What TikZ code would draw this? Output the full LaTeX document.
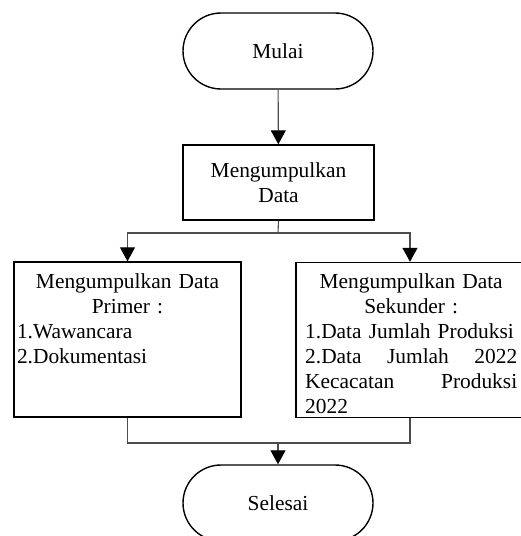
\documentclass[tikz,border=0pt]{standalone}
\usepackage{fontspec}
\setmainfont{Liberation Serif}
\usetikzlibrary{arrows.meta,shapes.misc}

\tikzset{
  terminal/.style={rounded rectangle,draw,line width=1.4pt,minimum width=190pt,minimum height=76pt,inner sep=0pt},
  process/.style={rectangle,draw,line width=1.4pt,inner sep=0pt},
  link/.style={draw=black!70,line width=1.1pt},
  flow/.style={link,-{Triangle[length=14pt,width=15pt,color=black]}}
}

\begin{document}
\begin{tikzpicture}[x=1pt,y=-1pt,font=\fontsize{21.4}{25}\selectfont]
  \useasboundingbox (0,0) rectangle (521,536);
  \clip (0,0) rectangle (521,536);
  % start and first step
  \node[terminal] (mulai) at (278,51) {Mulai};
  \node[process,minimum width=191pt,minimum height=75pt,align=center] (kumpul) at (278.5,182.5) {Mengumpulkan\\Data};
  % the two kinds of data
  \node[process,minimum width=227pt,minimum height=155pt] (primer) at (127.5,339.5) {};
  \node[process,minimum width=228pt,minimum height=155pt] (sekunder) at (410,340) {};
  \node[anchor=north,text width=221pt,inner sep=0pt] (teksprimer) at (127.5,273.4) {%
    \makebox[\linewidth][c]{Mengumpulkan Data}\\
    \makebox[\linewidth][c]{Primer :}\\
    1.Wawancara\\
    2.Dokumentasi};
  \node[anchor=north west,text width=212pt,inner sep=0pt] (tekssekunder) at (305,273.4) {%
    \makebox[\linewidth][c]{Mengumpulkan Data}\\
    \makebox[\linewidth][c]{Sekunder :}\\
    1.Data Jumlah Produksi\\
    \makebox[\linewidth][l]{2.Data\hfill Jumlah\hfill 2022}\\
    \makebox[\linewidth][l]{Kecacatan\hfill Produksi}\\
    2022};
  % end
  \node[terminal] (selesai) at (278,503) {Selesai};
  % connectors
  \coordinate (cabang) at (278,233);
  \coordinate (gabung) at (278,443);
  \draw[flow] (mulai) -- (kumpul);
  \draw[link] (kumpul.south) -- (cabang);
  \draw[flow] (cabang) -| (primer.north);
  \draw[flow] (cabang) -| (sekunder.north);
  \draw[link] (primer.south) |- (gabung);
  \draw[link] (sekunder.south) |- (gabung);
  \draw[flow] (gabung) -- (selesai.north);
\end{tikzpicture}
\end{document}
